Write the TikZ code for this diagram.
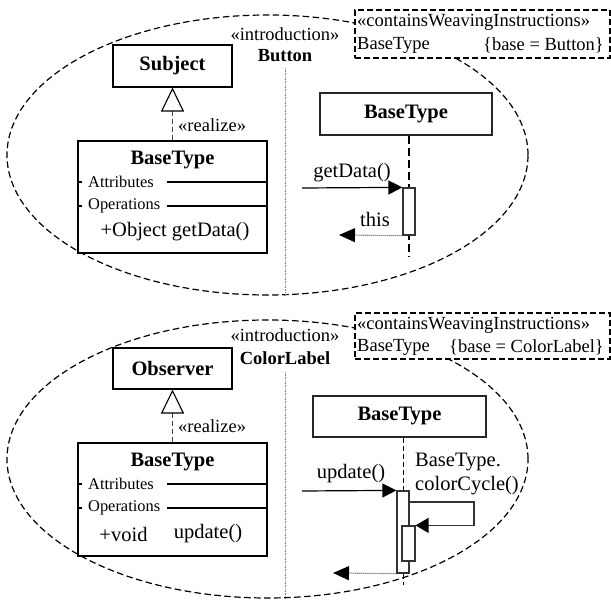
\documentclass[tikz,border=0pt]{standalone}
\usepackage{fontspec}
\setmainfont{Liberation Serif}
\usetikzlibrary{arrows.meta}

\newcommand{\fsz}[1]{\fontsize{#1}{#1}\selectfont}

\begin{document}
\begin{tikzpicture}[x=1pt,y=-1pt,
  aspect/.style={draw, dash pattern=on 6.5pt off 3.5pt, line width=1.2pt},
  weave/.style={draw, fill=white, dash pattern=on 6pt off 3pt, line width=1.8pt,
    minimum width=255pt, inner sep=0pt},
  divider/.style={draw=gray, line width=0.9pt, dash pattern=on 0.8pt off 0.8pt},
  clsname/.style={draw, fill=white, line width=1.1pt, inner sep=0pt, font=\fsz{20.5}\bfseries},
  clsbox/.style={draw, fill=white, line width=1.1pt, inner sep=0pt, minimum width=189pt},
  boldtxt/.style={inner sep=0pt, font=\fsz{20.5}\bfseries},
  txt/.style={inner sep=0pt, font=\fsz{20.5}},
  smalltxt/.style={inner sep=0pt, font=\fsz{16.4}},
  stereo/.style={inner sep=0pt, font=\fsz{18.5}},
  realize/.style={draw=black!75, line width=1.2pt, dash pattern=on 5pt off 3pt,
    -{Triangle[open, length=24pt, width=23pt, line width=1.1pt, black]}},
  lifebox/.style={draw=black!85, fill=white, line width=1.1pt, inner sep=0pt, font=\fsz{20.5}\bfseries},
  lifeline/.style={draw=black, line width=1.5pt, dash pattern=on 8pt off 4pt},
  lifethin/.style={draw=black, line width=0.9pt, dash pattern=on 5pt off 3pt},
  act/.style={draw=black!80, fill=white, line width=1.2pt, inner sep=0pt, minimum width=12pt},
  msg/.style={draw=black, line width=1.2pt, -{Triangle[length=14pt, width=14pt]}},
  selfmsg/.style={draw=black!80, line width=1.5pt, -{Triangle[length=13pt, width=15pt, black]}},
  ret/.style={draw=black!70, line width=1.1pt, dash pattern=on 1pt off 1pt,
    -{Triangle[length=16pt, width=14pt, black]}},
]
\useasboundingbox (0,0) rectangle (611,601);

% ---------------- upper aspect: Button introduces Subject ----------------
\draw[aspect] (267.5,155) ellipse [x radius=260.5pt, y radius=140pt];

\node[stereo] (intro1) at (285,34) {«introduction»};
\node[stereo, font=\fsz{18.5}\bfseries] (intro1b) at (285,56) {Button};
\coordinate (div1) at (285,296);
\draw[divider] (285,68) -- (div1);

% class side
\node[clsname, minimum width=119pt, minimum height=42pt] (subj) at (172.5,66) {Subject};
\node[clsbox, minimum height=112pt] (cls1) at (172.5,197) {};
\node[boldtxt] (cls1t) at (172.5,160) {BaseType};
\node[smalltxt, anchor=west] (att1) at (88,182) {Attributes};
\node[smalltxt, anchor=west] (ops1) at (88,206) {Operations};
\draw[line width=1.1pt] (78,182) -- (82,182) (167,182) -- (267,182);
\draw[line width=1.1pt] (78,206) -- (82,206) (167,206) -- (267,206);
\node[txt] (op1) at (175,232) {+Object getData()};
\draw[realize] (cls1.north) -- (subj.south);
\node[stereo, anchor=west] (rl1) at (178,125) {«realize»};

% sequence side
\node[lifebox, minimum width=172pt, minimum height=42pt] (life1) at (406,114) {BaseType};
\coordinate (end1) at (409,256);
\draw[lifeline] (life1.south -| end1) -- (end1);
\node[act, minimum height=47pt] (act1) at (409,211.5) {};
\coordinate (src1) at (302,188);
\draw[msg] (src1) -- (act1.north west);
\node[txt] (m1) at (352,173) {getData()};
\coordinate (ret1) at (339,235);
\draw[ret] (act1.south west) -- (ret1);
\node[txt] (r1) at (375,219) {this};

% weaving instructions
\node[weave, minimum height=48pt] (w1) at (482.5,34) {};
\node[stereo, anchor=west] (w1a) at (357,22) {«containsWeavingInstructions»};
\node[stereo, anchor=west] (w1b) at (357,45) {BaseType};
\node[stereo, anchor=east] (w1c) at (604,45) {\{base = Button\}};

% ---------------- lower aspect: ColorLabel introduces Observer ----------------
\draw[aspect] (267.5,459) ellipse [x radius=260.5pt, y radius=139pt];

\node[stereo] (intro2) at (285,335) {«introduction»};
\node[stereo, font=\fsz{18.5}\bfseries] (intro2b) at (285,358) {ColorLabel};
\coordinate (div2) at (285,598);
\draw[divider] (285,372) -- (div2);

% class side
\node[clsname, minimum width=119pt, minimum height=41pt] (obs) at (172.5,368.5) {Observer};
\node[clsbox, minimum height=113pt] (cls2) at (172.5,499.5) {};
\node[boldtxt] (cls2t) at (172.5,462) {BaseType};
\node[smalltxt, anchor=west] (att2) at (88,484) {Attributes};
\node[smalltxt, anchor=west] (ops2) at (88,508) {Operations};
\draw[line width=1.1pt] (78,484) -- (82,484) (167,484) -- (267,484);
\draw[line width=1.1pt] (78,508) -- (82,508) (167,508) -- (267,508);
\node[txt] (op2a) at (123.5,534) {+void};
\node[txt] (op2b) at (208,534) {update()};
\draw[realize] (cls2.north) -- (obs.south);
\node[stereo, anchor=west] (rl2) at (178,426) {«realize»};

% sequence side
\node[lifebox, minimum width=173pt, minimum height=41pt] (life2) at (399.5,416.5) {BaseType};
\coordinate (end2) at (403,585);
\draw[lifethin] (life2.south -| end2) -- (end2);
\node[act, minimum height=82pt] (act2) at (403,532) {};
\node[act, minimum width=13pt, minimum height=35pt] (act2b) at (408.5,543.5) {};
\coordinate (src2) at (302,491);
\draw[msg] (src2) -- (act2.north west);
\node[txt] (m2) at (351,474) {update()};
\coordinate (loop2) at (474,502);
\draw[selfmsg] (act2.east |- loop2) -- (loop2) |- (act2b.north east);
\node[txt, anchor=west] (m2a) at (415,462) {BaseType.};
\node[txt, anchor=west] (m2b) at (415,486) {colorCycle()};
\coordinate (ret2) at (333,573);
\draw[ret] (act2.south west) -- (ret2);

% weaving instructions
\node[weave, minimum height=46pt] (w2) at (482.5,336) {};
\node[stereo, anchor=west] (w2a) at (357,325) {«containsWeavingInstructions»};
\node[stereo, anchor=west] (w2b) at (357,347) {BaseType};
\node[stereo, anchor=east] (w2c) at (604,347) {\{base = ColorLabel\}};
\end{tikzpicture}
\end{document}
